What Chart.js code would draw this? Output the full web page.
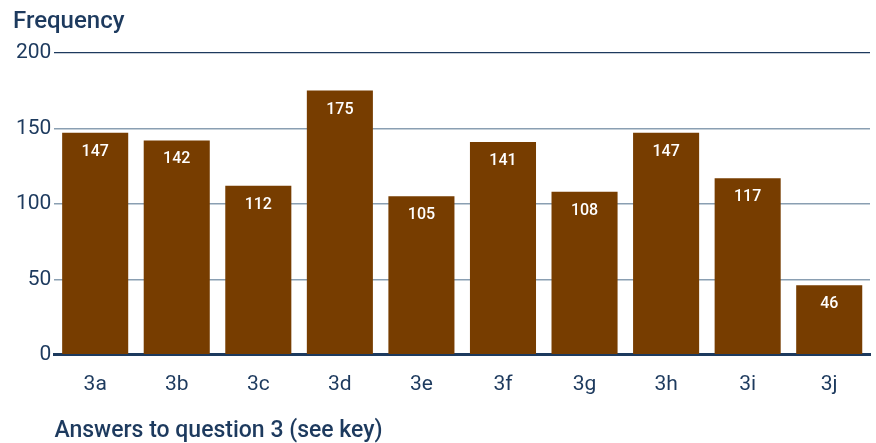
<!DOCTYPE html>
<html>
<head>
<meta charset="utf-8">
<script src="https://cdn.jsdelivr.net/npm/chart.js@4"></script>
<style>
html,body{margin:0;padding:0;background:#fff;}
#wrap{width:876px;height:443px;}
</style>
</head>
<body>
<div id="wrap"><canvas id="c" width="876" height="443"></canvas></div>
<script>
const categories = ["3a","3b","3c","3d","3e","3f","3g","3h","3i","3j"];
const frequencies = [147,142,112,175,105,141,108,147,117,46];
const yTicks = [0,50,100,150,200];

const NAVY = '#1d3a5e';
const GRID = '#8a9fb2';
const BAR = '#773d00';
const FONT = 'Roboto, "DejaVu Sans", sans-serif';

const labelPlugin = {
  id: 'barLabels',
  afterDatasetsDraw(chart) {
    const ctx = chart.ctx;
    const meta = chart.getDatasetMeta(0);
    ctx.save();
    ctx.fillStyle = '#ffffff';
    ctx.font = '500 16px ' + FONT;
    ctx.textAlign = 'center';
    ctx.textBaseline = 'middle';
    meta.data.forEach((bar, i) => {
      ctx.fillText(String(frequencies[i]), bar.x, bar.y + 19);
    });
    ctx.restore();
  }
};

new Chart(document.getElementById('c'), {
  type: 'bar',
  data: {
    labels: categories,
    datasets: [{
      data: frequencies,
      backgroundColor: BAR,
      borderWidth: 0,
      barPercentage: 0.81,
      categoryPercentage: 1.0
    }]
  },
  options: {
    responsive: false,
    animation: false,
    layout: { padding: { left: 13, right: 6, top: 0, bottom: 0 } },
    plugins: {
      legend: { display: false },
      tooltip: { enabled: false },
      title: {
        display: true,
        text: 'Frequency',
        align: 'start',
        color: NAVY,
        font: { family: FONT, size: 24, weight: '500' },
        padding: { top: 8, bottom: 16 }
      }
    },
    scales: {
      x: {
        grid: { display: false, drawTicks: false },
        border: { display: true, color: NAVY, width: 3 },
        ticks: { color: NAVY, font: { family: FONT, size: 21 }, padding: 17 },
        title: {
          display: true,
          text: 'Answers to question 3 (see key)',
          align: 'start',
          color: NAVY,
          font: { family: FONT, size: 23, weight: '500', lineHeight: 1 },
          padding: { top: 6, bottom: 0 }
        }
      },
      y: {
        min: 0,
        max: 200,
        afterBuildTicks(scale) { scale.ticks = yTicks.map(v => ({ value: v })); },
        grid: {
          drawTicks: false,
          color: ctx => (ctx.tick && ctx.tick.value === 200) ? NAVY : GRID,
          lineWidth: ctx => (ctx.tick && ctx.tick.value === 200) ? 1.2 : 1.5
        },
        border: { display: false },
        ticks: { color: NAVY, font: { family: FONT, size: 21 }, padding: 3 }
      }
    }
  },
  plugins: [labelPlugin]
});
</script>
</body>
</html>
